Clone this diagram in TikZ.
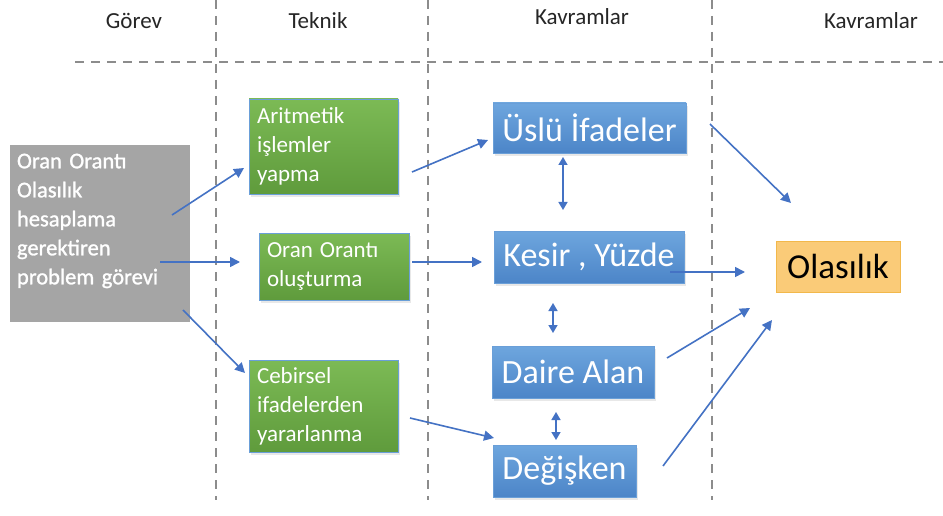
\documentclass[tikz,border=0pt]{standalone}
\usepackage{fontspec}
\setmainfont{Carlito}
\newfontfamily\taskfont{Carlito}[FakeBold=1.2]
\usetikzlibrary{arrows.meta,shadows}
\definecolor{arrowblue}{HTML}{4472C4}
\definecolor{dashgray}{HTML}{8C8C8C}
\definecolor{greentop}{HTML}{7CBA55}
\definecolor{greenbot}{HTML}{5F9B3C}
\definecolor{bluetop}{HTML}{6EA6DE}
\definecolor{bluebot}{HTML}{4C85C8}
\definecolor{boxedge}{HTML}{6A9FD8}
\definecolor{graybox}{HTML}{A5A5A5}
\definecolor{olfill}{HTML}{FACB78}
\definecolor{oledge}{HTML}{F2B84B}
\tikzset{
  softshadow/.style={drop shadow={opacity=0.18, shadow xshift=2pt, shadow yshift=-3pt}},
  hdr/.style={font=\fontsize{23}{27}\selectfont, text=black!85, inner sep=0pt},
  sep/.style={draw=dashgray, line width=1.1pt, dash pattern=on 9pt off 7pt},
  taskbox/.style={fill=graybox, text=white, inner xsep=7pt, inner ysep=4pt, text width=166pt,
    minimum width=180pt, minimum height=177pt, align=left, font=\taskfont\fontsize{22.5}{29}\selectfont},
  techbox/.style={draw=boxedge, line width=0.6pt, top color=greentop, bottom color=greenbot, text=white,
    inner xsep=8pt, inner ysep=0pt, align=left, font=\fontsize{23}{29}\selectfont, softshadow},
  conbox/.style={draw=boxedge, line width=0.6pt, top color=bluetop, bottom color=bluebot, text=white,
    inner sep=0pt, align=center, font=\fontsize{34}{40}\selectfont, softshadow},
  goalbox/.style={draw=oledge, line width=0.6pt, fill=olfill, text=black,
    inner sep=0pt, align=center, font=\fontsize{35}{40}\selectfont},
  conn/.style={draw=arrowblue, line width=1.6pt, -{Triangle[length=10pt,width=10pt]}},
  dconn/.style={draw=arrowblue, line width=1.6pt, {Triangle[length=8pt,width=9pt]}-{Triangle[length=8pt,width=9pt]}}
}
\begin{document}
\begin{tikzpicture}[x=1pt,y=-1pt]
\useasboundingbox (0,0) rectangle (943,516);
\fill[white] (0,0) rectangle (943,516);

% separators
\coordinate (v1t) at (216,0);   \coordinate (v1b) at (216,500);
\coordinate (v2t) at (428,0);   \coordinate (v2b) at (428,500);
\coordinate (v3t) at (712,0);   \coordinate (v3b) at (712,500);
\coordinate (hl) at (75,62);    \coordinate (hr) at (943,62);
\draw[sep] (v1t) -- (v1b);
\draw[sep] (v2t) -- (v2b);
\draw[sep] (v3t) -- (v3b);
\draw[sep] (hl) -- (hr);

% headers
\node[hdr] (hg) at (134,21) {Görev};
\node[hdr] (ht) at (318,21) {Teknik};
\node[hdr] (hk1) at (582,17) {Kavramlar};
\node[hdr] (hk2) at (871,21) {Kavramlar};

% task
\node[taskbox] (g) at (100,233.5) {Oran Orantı\\Olasılık\\hesaplama\\gerektiren\\problem görevi\\~};

% techniques
\node[techbox, text width=133pt, minimum height=95pt] (a1) at (323.5,146.5) {Aritmetik\\işlemler\\yapma};
\node[techbox, text width=134pt, minimum height=67pt] (a2) at (334,266.5) {Oran\hspace{7pt}Orantı\\oluşturma};
\node[techbox, text width=133pt, minimum height=92pt] (a3) at (323.5,406) {Cebirsel\\ifadelerden\\yararlanma};

% concepts
\node[conbox, minimum width=193pt, minimum height=50pt] (b1) at (589.5,128) {Üslü İfadeler};
\node[conbox, minimum width=190pt, minimum height=52pt] (b2) at (589,257) {Kesir , Yüzde};
\node[conbox, minimum width=162pt, minimum height=52pt] (b3) at (573,372) {Daire Alan};
\node[conbox, minimum width=143pt, minimum height=52pt] (b4) at (564.5,471) {Değişken};

% goal
\node[goalbox, minimum width=124pt, minimum height=51pt] (o) at (838,266.5) {Olasılık};

% connector end points
\coordinate (g1) at (172,215);  \coordinate (a1in) at (244,168);
\coordinate (g2) at (160,262);  \coordinate (a2in) at (240,262);
\coordinate (g3) at (183,310);  \coordinate (a3in) at (245,373);
\coordinate (a1out) at (412,172); \coordinate (b1in) at (488,140);
\coordinate (a2out) at (412,262); \coordinate (b2in) at (482,262);
\coordinate (a3out) at (410,418); \coordinate (b4in) at (494,438);
\coordinate (b1d) at (563,157); \coordinate (b2u) at (563,210);
\coordinate (b2d) at (553,303); \coordinate (b3u) at (553,333);
\coordinate (b3d) at (556,412); \coordinate (b4u) at (556,440);
\coordinate (b1out) at (710,124); \coordinate (o1) at (791,203);
\coordinate (b2out) at (670,272); \coordinate (o2) at (745,272);
\coordinate (b3out) at (667,358); \coordinate (o3) at (750,308);
\coordinate (b4out) at (663,466); \coordinate (o4) at (772,320);

\draw[conn] (g1) -- (a1in);
\draw[conn] (g2) -- (a2in);
\draw[conn] (g3) -- (a3in);
\draw[conn] (a1out) -- (b1in);
\draw[conn] (a2out) -- (b2in);
\draw[conn] (a3out) -- (b4in);
\draw[dconn] (b1d) -- (b2u);
\draw[dconn] (b2d) -- (b3u);
\draw[dconn] (b3d) -- (b4u);
\draw[conn] (b1out) -- (o1);
\draw[conn] (b2out) -- (o2);
\draw[conn] (b3out) -- (o3);
\draw[conn] (b4out) -- (o4);
\end{tikzpicture}
\end{document}
